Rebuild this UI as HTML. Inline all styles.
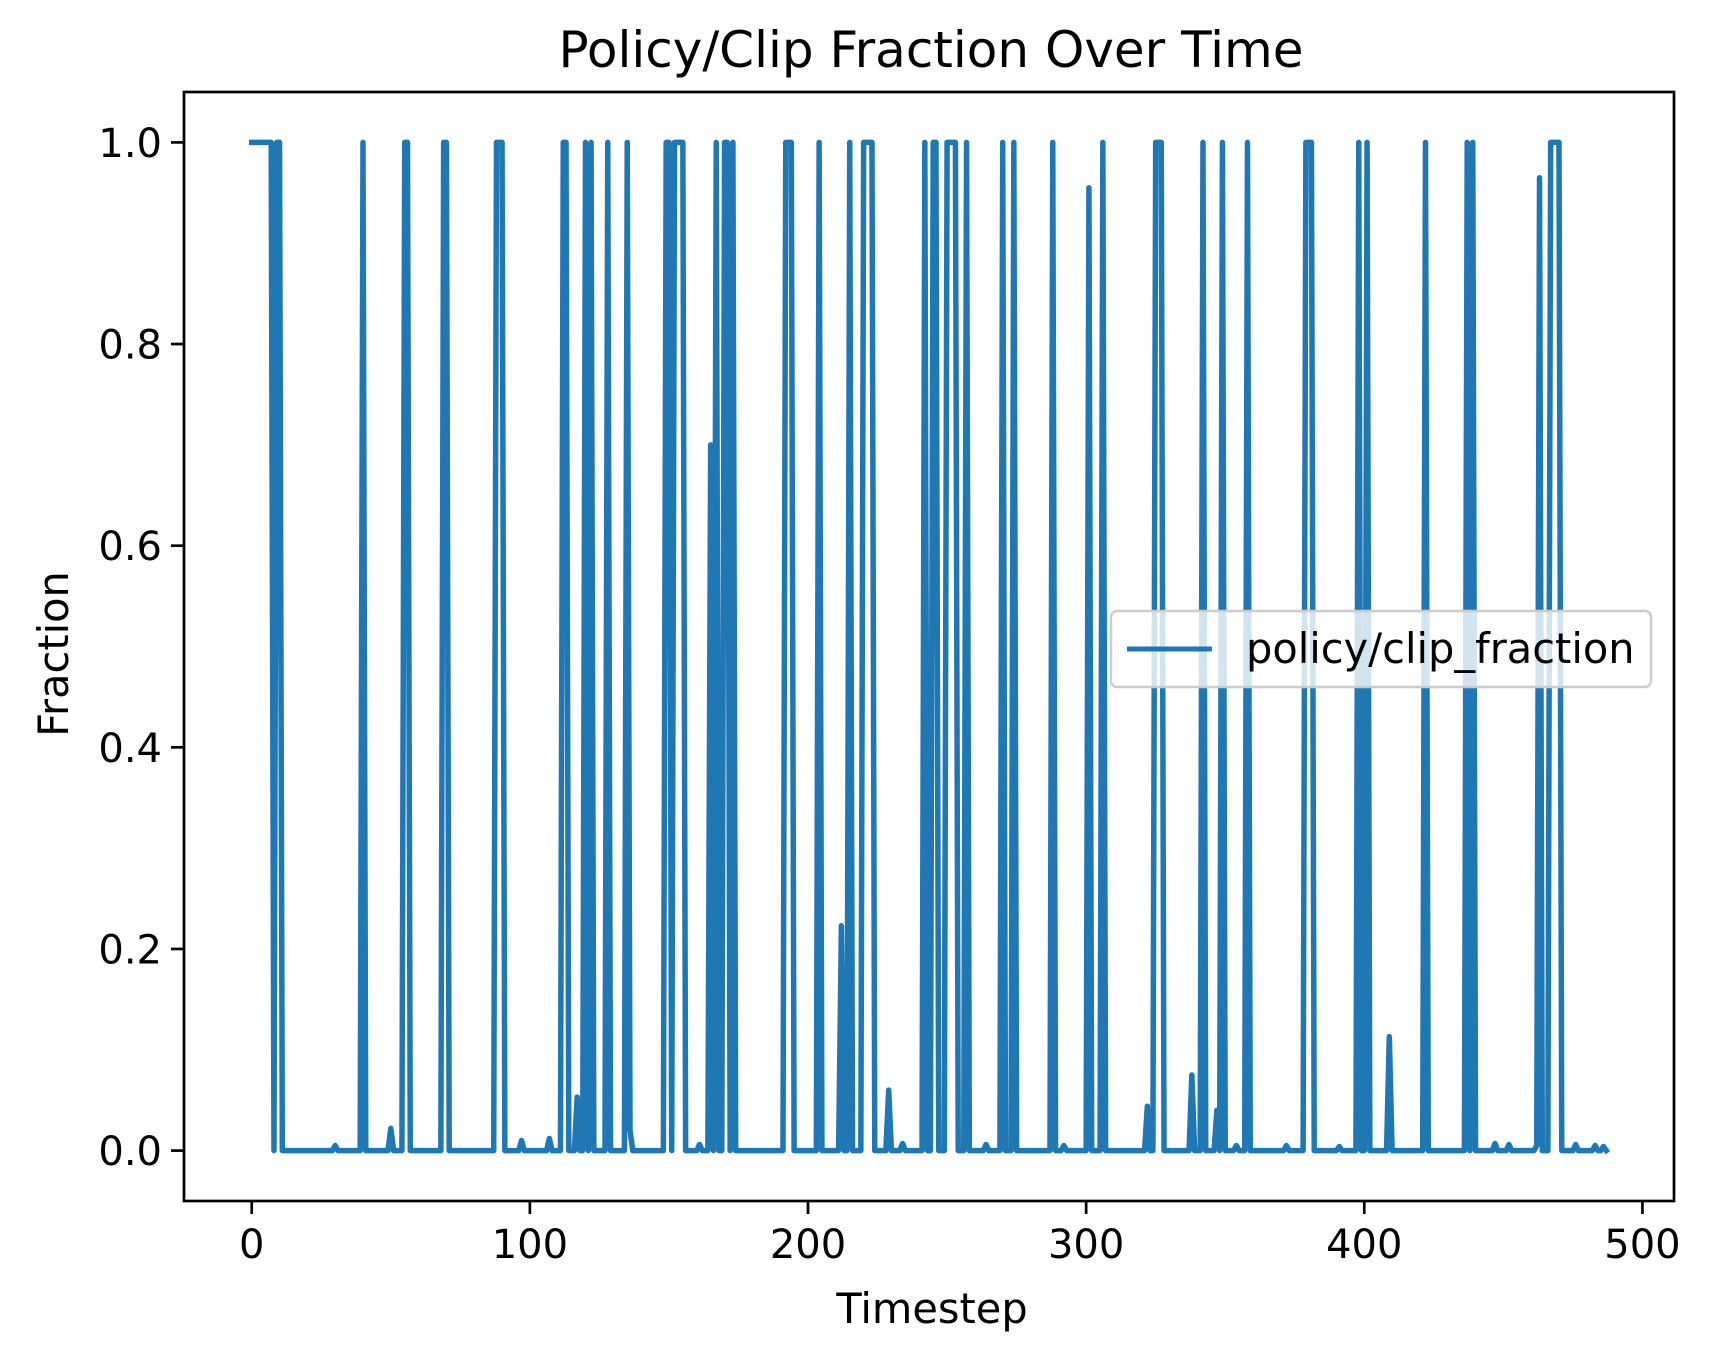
<!DOCTYPE html>
<html><head><meta charset="utf-8"><style>
html,body{margin:0;padding:0;background:#fff;}
svg{display:block;font-family:"DejaVu Sans","Liberation Sans",sans-serif;}
</style></head><body>
<svg id="chart" width="1710" height="1361" viewBox="0 0 1710 1361" xmlns="http://www.w3.org/2000/svg">
<rect width="1710" height="1361" fill="#fff"/>
<text x="931" y="67" font-size="50" text-anchor="middle">Policy/Clip Fraction Over Time</text>
<text x="932" y="1323" font-size="41.5" text-anchor="middle">Timestep</text>
<text x="0" y="0" font-size="41.5" text-anchor="middle" transform="translate(68,654) rotate(-90)">Fraction</text>
<g id="plot"></g>
<rect x="184" y="92" width="1490" height="1109" fill="none" stroke="#000" stroke-width="2.7"/>
<g id="legend">
<rect x="1111" y="611" width="540" height="76" rx="6" fill="#fff" fill-opacity="0.8" stroke="#ccc" stroke-width="2.5"/>
<line x1="1127" y1="649" x2="1212" y2="649" stroke="#1f77b4" stroke-width="5"/>
<text x="1246" y="663" font-size="41.5">policy/clip_fraction</text>
</g>
</svg>
<script>
const xTicks = [0,100,200,300,400,500];
const yTicks = [0.0,0.2,0.4,0.6,0.8,1.0];
const yTickLabels = ["0.0","0.2","0.4","0.6","0.8","1.0"];
const numSteps = 488;
const fullSteps = [0,1,2,3,4,5,6,7,9,10,40,55,56,69,70,88,89,90,112,113,120,122,128,135,149,150,152,153,154,155,167,170,171,173,192,193,194,204,215,220,221,222,223,242,245,246,250,251,252,253,257,270,274,288,306,325,326,327,342,349,358,379,380,381,398,401,422,437,439,467,468,469,470];
const partialSteps = [30,50,97,107,117,136,161,165,212,229,234,264,292,301,322,338,347,354,372,391,409,447,452,462,463,476,483,486];
const partialValues = [0.005,0.022,0.01,0.012,0.053,0.02,0.006,0.70,0.223,0.06,0.007,0.006,0.005,0.955,0.044,0.075,0.04,0.005,0.005,0.004,0.113,0.007,0.006,0.005,0.965,0.006,0.005,0.004];

const series = new Array(numSteps).fill(0);
fullSteps.forEach(s => series[s] = 1.0);
partialSteps.forEach((s,i) => series[s] = partialValues[i]);

const L=184,R=1674,T=92,B=1201;
const xMin=-24.35,xMax=511.35,yMin=-0.05,yMax=1.05;
const xs = v => L + (v-xMin)/(xMax-xMin)*(R-L);
const ys = v => B - (v-yMin)/(yMax-yMin)*(B-T);
const NS="http://www.w3.org/2000/svg";
const plot=document.getElementById('plot');
function mk(tag,attrs,parent){const e=document.createElementNS(NS,tag);for(const k in attrs)e.setAttribute(k,attrs[k]);(parent||plot).appendChild(e);return e;}

xTicks.forEach(t=>{
  const tk=mk('line',{x1:xs(t),x2:xs(t),y1:B,y2:B+13,stroke:'#000','stroke-width':2.7});
  
  
  const lb=mk('text',{x:xs(t),y:B+57,'font-size':40,'text-anchor':'middle'});
  
  
  lb.textContent=String(t);
});
yTicks.forEach((t,i)=>{
  const tk=mk('line',{x1:L-13,x2:L,y1:ys(t),y2:ys(t),stroke:'#000','stroke-width':2.7});
  
  
  const lb=mk('text',{x:L-22,y:ys(t)+14.5,'font-size':40,'text-anchor':'end'});
  
  
  lb.textContent=yTickLabels[i];
});
const d=series.map((v,i)=>(i?'L':'M')+xs(i).toFixed(2)+','+ys(v).toFixed(2)).join(' ');
const path=mk('path',{d:d,fill:'none',stroke:'#1f77b4','stroke-width':5.5,'stroke-linejoin':'round','stroke-linecap':'square'});


</script>
</body></html>
